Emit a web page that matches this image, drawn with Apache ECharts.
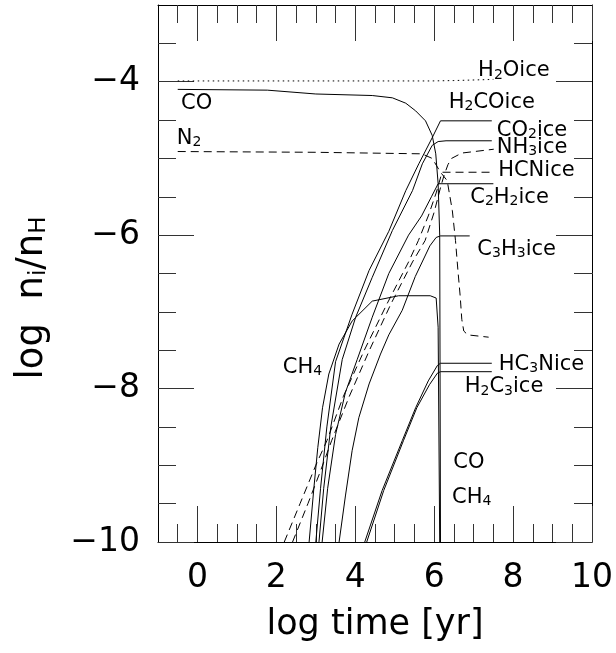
<!DOCTYPE html>
<html><head><meta charset="utf-8">
<script src="https://cdn.jsdelivr.net/npm/echarts@6/dist/echarts.min.js"></script>
<style>html,body{margin:0;padding:0;background:#fff}#c{width:616px;height:653px}</style>
</head><body><div id="c"></div>
<script>
// ---- axis ticks ----
const xMajor = [0, 2, 4, 6, 8, 10];
const xMinor = [-0.5, 0.5, 1, 1.5, 2.5, 3, 3.5, 4.5, 5, 5.5, 6.5, 7, 7.5, 8.5, 9, 9.5];
const yMajor = [-10, -8, -6, -4];
const yMinor = [-9.5, -9, -8.5, -7.5, -7, -6.5, -5.5, -5, -4.5, -3.5];

// ---- curves: [log time, log abundance] ----
const h2oIce = [[-0.5,-3.99],[2,-3.99],[4,-3.99],[5.9,-3.99],[6.5,-3.985],[7.5,-3.97]];
const coGas = [[-0.5,-4.1],[1.77,-4.11],[3.0,-4.16],[4.43,-4.18],[4.94,-4.21],[5.28,-4.28],[5.53,-4.38],[5.78,-4.51],[5.95,-4.7],[6.04,-4.94],[6.1,-5.33],[6.14,-6.0],[6.16,-10]];
const n2Gas = [[-0.5,-4.91],[3,-4.92],[5.69,-4.94],[5.95,-5.0],[6.16,-5.18],[6.33,-5.29],[6.46,-5.68],[6.54,-6.07],[6.6,-6.45],[6.66,-6.8],[6.7,-7.1],[6.75,-7.25],[6.85,-7.3],[7.38,-7.33]];
const h2coIce = [[3.0,-10],[3.12,-9.3],[3.28,-8.5],[3.5,-7.65],[3.92,-7.03],[4.35,-6.46],[4.85,-5.95],[5.28,-5.42],[5.61,-5.07],[5.95,-4.73],[6.16,-4.51],[7.46,-4.51]];
const co2Ice = [[3.08,-10],[3.2,-9.3],[3.38,-8.5],[3.67,-7.62],[4.01,-7.07],[4.43,-6.55],[4.94,-5.94],[5.45,-5.42],[5.7,-5.07],[5.95,-4.83],[6.1,-4.78],[6.3,-4.77],[7.46,-4.77]];
const nh3Ice = [[2.41,-10],[2.8,-9.5],[3.1,-9.1],[3.4,-8.68],[3.85,-8.1],[4.35,-7.51],[4.9,-6.9],[5.45,-6.35],[5.77,-6.07],[6.0,-5.7],[6.15,-5.4],[6.25,-5.22],[6.35,-5.08],[6.44,-5.0],[6.7,-4.93],[7.51,-4.88]];
const hcnIce = [[2.2,-10],[2.6,-9.5],[3.0,-9.0],[3.28,-8.68],[3.7,-8.1],[4.22,-7.51],[4.8,-6.9],[5.35,-6.35],[5.6,-6.07],[5.85,-5.75],[6.05,-5.45],[6.2,-5.18],[7.5,-5.18]];
const c2h2Ice = [[3.16,-10],[3.3,-9.3],[3.5,-8.6],[3.75,-8.05],[4.05,-7.62],[4.43,-7.07],[4.85,-6.5],[5.35,-6.0],[5.68,-5.75],[5.93,-5.5],[6.1,-5.33],[7.5,-5.33]];
const c3h3Ice = [[3.59,-10],[3.75,-9.4],[3.92,-8.81],[4.09,-8.38],[4.35,-7.94],[4.64,-7.55],[4.85,-7.3],[5.19,-6.98],[5.52,-6.54],[5.89,-6.14],[6.05,-6.03],[6.16,-6.01],[6.9,-6.01]];
const hc3nIce = [[4.24,-10],[4.68,-9.33],[5.19,-8.68],[5.53,-8.25],[5.85,-7.9],[6.08,-7.7],[6.16,-7.67],[7.46,-7.67]];
const h2c3Ice = [[4.29,-10],[4.72,-9.33],[5.22,-8.68],[5.56,-8.25],[5.88,-7.95],[6.08,-7.8],[6.16,-7.78],[7.46,-7.78]];
const ch4Gas = [[2.83,-10],[2.95,-9.3],[3.05,-8.77],[3.17,-8.25],[3.33,-7.81],[3.59,-7.42],[3.92,-7.12],[4.43,-6.86],[5.1,-6.79],[5.9,-6.79],[6.05,-6.82],[6.1,-7.2],[6.14,-10]];

// ---- curve labels ----
const labelText = ['H{s|2}Oice','CO','N{s|2}','H{s|2}COice','CO{s|2}ice','NH{s|3}ice','HCNice','C{s|2}H{s|2}ice','C{s|3}H{s|3}ice','HC{s|3}Nice','H{s|2}C{s|3}ice','CH{s|4}','CO','CH{s|4}'];
const labelX = [8.02, -0.02, -0.21, 7.46, 8.48, 8.48, 8.59, 7.91, 8.09, 8.72, 7.77, 2.66, 6.88, 6.95];
const labelY = [-3.86, -4.28, -4.74, -4.27, -4.64, -4.86, -5.16, -5.51, -6.19, -7.69, -7.98, -7.72, -8.97, -9.42];

const FONT = 'DejaVu Sans';
const solid = 'solid', dashed = [8, 5], dotted = [1.5, 3.5];
const curves = [
  [h2oIce, dotted], [coGas, solid], [n2Gas, dashed], [h2coIce, solid], [co2Ice, solid],
  [nh3Ice, dashed], [hcnIce, dashed], [c2h2Ice, solid], [c3h3Ice, solid],
  [hc3nIce, solid], [h2c3Ice, solid], [ch4Gas, solid]
];

function fmt(v) { return v < 0 ? '\u2212' + Math.abs(v) : String(v); }

function xAx(pos, ticks, len, main) {
  return {
    type: 'value', position: pos, min: -1, max: 10,
    axisLine: { show: main, onZero: false, lineStyle: { color: '#000', width: 1 } },
    axisTick: { show: true, inside: true, length: len, customValues: ticks, lineStyle: { color: '#333', width: 1 } },
    axisLabel: main && pos === 'bottom' ? { show: true, customValues: xMajor, formatter: fmt, fontSize: 33, fontFamily: FONT, color: '#000', margin: 20 } : { show: false },
    splitLine: { show: false },
    name: main && pos === 'bottom' ? 'log time [yr]' : '',
    nameLocation: 'middle', nameGap: 65,
    nameTextStyle: { fontSize: 35, fontFamily: FONT, color: '#000' }
  };
}
function yAx(pos, ticks, len, main) {
  return {
    type: 'value', position: pos, min: -10, max: -3,
    axisLine: { show: main, onZero: false, lineStyle: { color: '#000', width: 1 } },
    axisTick: { show: true, inside: true, length: len, customValues: ticks, lineStyle: { color: '#333', width: 1 } },
    axisLabel: main && pos === 'left' ? { show: true, customValues: yMajor, formatter: fmt, fontSize: 33, fontFamily: FONT, color: '#000', margin: 18 } : { show: false },
    splitLine: { show: false }
  };
}

const series = curves.map(function (c) {
  return {
    type: 'line', data: c[0], xAxisIndex: 0, yAxisIndex: 0, symbol: 'none', silent: true, clip: true,
    lineStyle: { color: '#000', width: 1, type: c[1] }
  };
});
series.push({
  type: 'scatter', xAxisIndex: 0, yAxisIndex: 0, symbolSize: 1, silent: true,
  itemStyle: { color: 'rgba(0,0,0,0)' },
  data: labelText.map(function (t, i) { return [labelX[i], labelY[i], t]; }),
  labelLayout: { hideOverlap: false },
  label: {
    show: true, position: 'inside', formatter: function (p) { return p.data[2]; },
    fontSize: 21, lineHeight: 22, fontFamily: FONT, color: '#000', textBorderWidth: 0, opacity: 1,
    rich: { s: { fontSize: 14, lineHeight: 6, verticalAlign: 'bottom', fontFamily: FONT, color: '#000', textBorderWidth: 0 } }
  }
});

const chart = echarts.init(document.getElementById('c'), null, { renderer: 'canvas' });
chart.setOption({
  animation: false,
  backgroundColor: '#fff',
  grid: { left: 158, right: 23, top: 5, bottom: 111, containLabel: false },
  xAxis: [xAx('bottom', xMajor, 36, true), xAx('bottom', xMinor, 18, false), xAx('top', xMajor, 36, true), xAx('top', xMinor, 18, false)],
  yAxis: [yAx('left', yMajor, 36, true), yAx('left', yMinor, 18, false), yAx('right', yMajor, 36, true), yAx('right', yMinor, 18, false)],
  graphic: [{
    type: 'text', x: 32, y: 298, rotation: Math.PI / 2,
    style: {
      text: 'log  n{s|i}/n{s|H}', fontSize: 37, lineHeight: 38, fontFamily: FONT, fill: '#000',
      align: 'center', verticalAlign: 'middle',
      rich: { s: { fontSize: 23, lineHeight: 8, verticalAlign: 'bottom', fontFamily: FONT, fill: '#000' } }
    }
  }],
  series: series
});
</script></body></html>
